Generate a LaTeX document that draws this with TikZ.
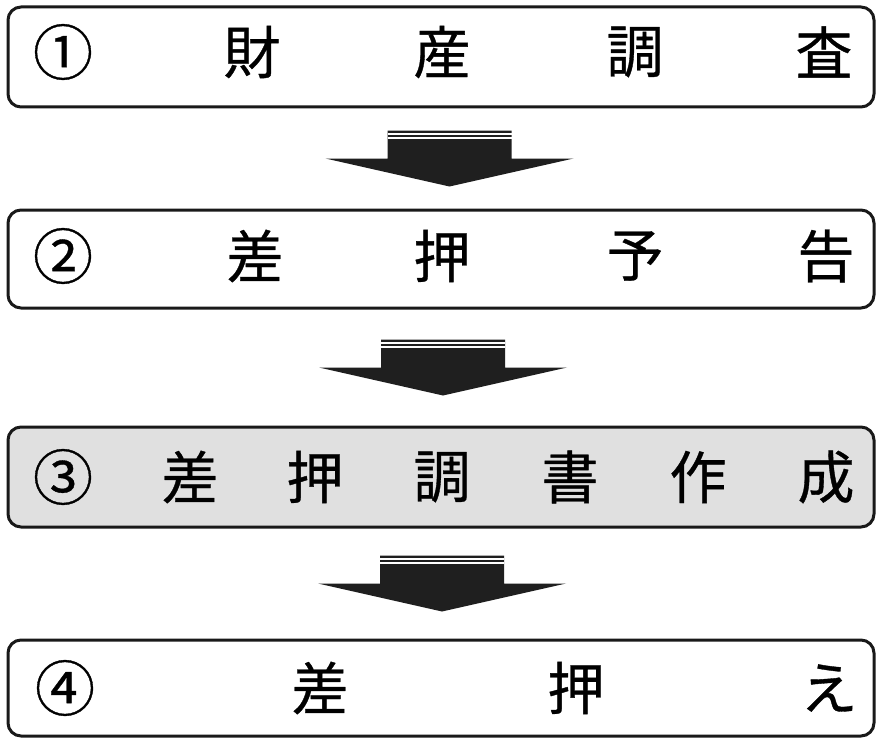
\documentclass[tikz,border=0pt]{standalone}
\usepackage{fontspec}
\setmainfont{Noto Sans CJK JP}
\newfontfamily\jpthick{Noto Sans CJK JP}[FakeBold=0.6]
\usetikzlibrary{calc}
\newcommand\flowdown[4]{% from box, to box, x offset, name
  \coordinate (#4) at ($($(#1.south)!0.5!(#2.north)$)+(#3,-28)$);
  \fill[flowarrow] ($(#4)+(-62,0)$) -- ($(#4)+(62,0)$) -- ($(#4)+(62,28)$)
    -- ($(#4)+(124,28)$) -- ($(#4)+(0,56)$) -- ($(#4)+(-124,28)$)
    -- ($(#4)+(-62,28)$) -- cycle;
  \draw[stripe] ($(#4)+(-62,3.5)$) -- ($(#4)+(62,3.5)$);
  \draw[stripe] ($(#4)+(-62,7.5)$) -- ($(#4)+(62,7.5)$);
}
\begin{document}
\begin{tikzpicture}[x=0.5pt,y=-0.5pt,
  stagebox/.style={draw=black!90, line width=1.5pt, rounded corners=6.5pt,
    inner sep=0pt, minimum width=433pt},
  glyph/.style={font=\jpthick\fontsize{28.5}{28.5}\selectfont, inner sep=0pt, anchor=center},
  numglyph/.style={font=\jpthick\fontsize{30}{30}\selectfont, inner sep=0pt, anchor=center},
  flowarrow/.style={fill=black!88},
  stripe/.style={draw=white, line width=0.7pt},
]
\useasboundingbox (0,0) rectangle (877,738);
\fill[white] (0,0) rectangle (877,738);

\node[stagebox, minimum height=50pt] (b1) at (441,57) {};
\node[stagebox, minimum height=49pt] (b2) at (441,259) {};
\node[stagebox, minimum height=50pt, fill=black!12] (b3) at (441,477) {};
\node[stagebox, minimum height=48pt] (b4) at (441,688) {};

% box 1
\node[numglyph] (n1) at (63,52) {①};
\node[glyph] (t1a) at (252,52) {財};
\node[glyph] (t1b) at (442,52) {産};
\node[glyph] (t1c) at (635,52) {調};
\node[glyph] (t1d) at (824,52) {査};
% box 2
\node[numglyph] (n2) at (63,256) {②};
\node[glyph] (t2a) at (255,256) {差};
\node[glyph] (t2b) at (442,256) {押};
\node[glyph] (t2c) at (635,256) {予};
\node[glyph] (t2d) at (826,256) {告};
% box 3
\node[numglyph] (n3) at (63,477) {③};
\node[glyph] (t3a) at (190,477) {差};
\node[glyph] (t3b) at (315,477) {押};
\node[glyph] (t3c) at (442,477) {調};
\node[glyph] (t3d) at (570,477) {書};
\node[glyph] (t3e) at (698,477) {作};
\node[glyph] (t3f) at (826,477) {成};
% box 4
\node[numglyph] (n4) at (65,688) {④};
\node[glyph] (t4a) at (320,688) {差};
\node[glyph] (t4b) at (576,688) {押};
\node[glyph] (t4c) at (829,688) {え};

% arrows
\flowdown{b1}{b2}{8.5}{a1}
\flowdown{b2}{b3}{2}{a2}
\flowdown{b3}{b4}{1}{a3}
\end{tikzpicture}
\end{document}
